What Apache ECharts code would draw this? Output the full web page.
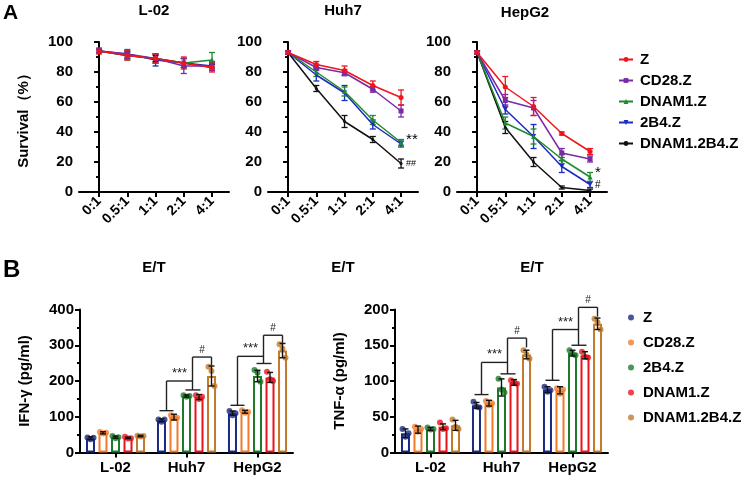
<!DOCTYPE html>
<html>
<head>
<meta charset="utf-8">
<script src="https://cdn.jsdelivr.net/npm/echarts@6/dist/echarts.min.js"></script>
<style>
html, body { margin: 0; padding: 0; background: #fff; }
#wrap { position: relative; width: 752px; height: 480px; }
#chartA { position: absolute; left: 0; top: 0; width: 752px; height: 280px; }
#chartB { position: absolute; left: 0; top: 250px; width: 752px; height: 230px; }
</style>
</head>
<body>
<div id="wrap">
  <div id="chartA"></div>
  <div id="chartB"></div>
</div>
<script>
// ---- Panel A: survival vs E/T ratio ----
const ratioLabels = ['0:1', '0.5:1', '1:1', '2:1', '4:1'];
const cellLines = ['L-02', 'Huh7', 'HepG2'];
const carNamesA = ['Z', 'CD28.Z', 'DNAM1.Z', '2B4.Z', 'DNAM1.2B4.Z'];

// rows follow carNamesA
const survL02 = [
  [94, 91, 89, 86, 83],
  [94, 92, 89, 84, 84],
  [94, 91, 89, 86, 88],
  [94, 92, 88, 86, 84],
  [94, 91, 89, 86, 83]
];
const errL02 = [
  [2, 3, 3, 4, 3],
  [1, 3, 3, 5, 3],
  [1, 3, 3, 3, 5],
  [1, 2, 4, 3, 2],
  [1, 2, 2, 3, 2]
];
const survHuh7 = [
  [93, 85, 81, 71, 63],
  [93, 83, 79.5, 68.5, 54],
  [93, 80, 67, 48, 33],
  [93, 78, 66, 45, 32],
  [93, 69, 47, 35, 19]
];
const errHuh7 = [
  [1, 2, 3, 3, 5],
  [1, 2, 2, 2, 4],
  [1, 3, 3, 3, 2],
  [1, 4, 5, 3, 2],
  [1, 2, 4, 2, 3]
];
const survHepG2 = [
  [93, 70, 57, 39, 27],
  [93, 61, 56, 26, 22],
  [93, 46, 37, 22, 10],
  [93, 55, 37, 17, 5],
  [93, 43, 20, 3, 1]
];
const errHepG2 = [
  [1, 7, 6, 1, 2],
  [1, 4, 5, 3, 2],
  [1, 4, 5, 3, 3],
  [1, 3, 8, 4, 2],
  [1, 4, 3, 1, 1]
];
const sigHuh7Y = [35, 19];
const sigHuh7Text = ['**', '##'];
const sigHepG2Y = [12.5, 4.5];
const sigHepG2Text = ['*', '#'];

// ---- Panel B: cytokines ----
const carNamesB = ['Z', 'CD28.Z', '2B4.Z', 'DNAM1.Z', 'DNAM1.2B4.Z'];
// means per CAR over [L-02, Huh7, HepG2]
const ifnMean = [[40, 90, 110], [55, 99, 114], [43, 158, 214], [41, 155, 210], [46, 214, 285]];
const ifnSd = [[4, 4, 6], [3, 8, 4], [3, 3, 16], [2, 7, 14], [2, 28, 20]];
const ifnReps = [
  [[42, 37, 41], [92, 86, 92], [116, 104, 110]],
  [[57, 53, 55], [104, 96, 97], [118, 111, 113]],
  [[46, 40, 43], [160, 156, 158], [231, 223, 198]],
  [[44, 39, 40], [160, 150, 156], [226, 205, 200]],
  [[47, 45, 46], [240, 228, 186], [303, 290, 265]]
];
const tnfMean = [[27, 66, 88], [32, 69, 87], [33, 91, 139], [36, 98, 136], [38, 137, 180]];
const tnfSd = [[6, 4, 4], [5, 4, 5], [2, 12, 4], [4, 4, 5], [7, 6, 8]];
const tnfReps = [
  [[33, 22, 27], [71, 64, 63], [92, 85, 87]],
  [[36, 29, 33], [72, 66, 69], [90, 82, 88]],
  [[35, 32, 33], [103, 88, 84], [143, 138, 136]],
  [[42, 33, 34], [101, 98, 96], [141, 134, 133]],
  [[46, 36, 33], [143, 137, 131], [187, 182, 172]]
];
// significance brackets for Huh7 and HepG2: [low, ***, mid, #, # end]
const bracketCats = [1, 2];
const ifnBrackets = [[117, 200, 175, 267, 244], [132, 269, 249, 328, 302]];
const tnfBrackets = [[81, 126, 110, 160, 147], [101, 172, 150, 203, 190]];

// ---- styles ----
const FONT = 'Arial, "Liberation Sans", sans-serif';
const colorsA = ['#f0141c', '#7a2aa6', '#1f8a2c', '#1c2cc0', '#111111'];
const symbolsA = ['circle', 'rect', 'triangle', 'path://M0,0L10,0L5,9Z', 'circle'];
const symSizeA = [5, 5, 5, 5, 3];
const colorsB = ['#1b2a80', '#f07c2a', '#1e7a2a', '#e8141c', '#c27a2c'];
const barStep = 12.5;
const jitter = [-3, 0, 3];

function axisBase() {
  return {
    axisLine: { show: true, lineStyle: { color: '#000', width: 2 } },
    axisTick: { show: true, length: 5, lineStyle: { color: '#000', width: 2 } },
    splitLine: { show: false }
  };
}

// ================= Chart A =================
const chartA = echarts.init(document.getElementById('chartA'));
const gridLeftA = [79, 268, 457];
const survByLine = [survL02, survHuh7, survHepG2];
const errByLine = [errL02, errHuh7, errHepG2];

const gridsA = gridLeftA.map(l => ({ left: l, top: 42, width: 150, height: 151 }));
const xAxesA = gridLeftA.map((l, p) => Object.assign(axisBase(), {
  type: 'value', gridIndex: p, min: -0.71, max: 4.6,
  name: 'E/T', nameLocation: 'middle', nameGap: 68,
  nameTextStyle: { fontFamily: FONT, fontWeight: 'bold', fontSize: 15, color: '#000' },
  axisTick: { show: true, length: 5, customValues: [0, 1, 2, 3, 4], lineStyle: { color: '#000', width: 2 } },
  axisLabel: {
    customValues: [0, 1, 2, 3, 4], rotate: 45, margin: 7,
    fontFamily: FONT, fontWeight: 'bold', fontSize: 14, color: '#000',
    formatter: v => ratioLabels[v]
  }
}));
const yAxesA = gridLeftA.map((l, p) => Object.assign(axisBase(), {
  type: 'value', gridIndex: p, min: 0, max: 100, interval: 20,
  name: p === 0 ? 'Survival（%）' : '', nameLocation: 'middle', nameGap: 48,
  nameTextStyle: { fontFamily: FONT, fontWeight: 'bold', fontSize: 15, color: '#000' },
  minorTick: { show: true, splitNumber: 2, length: 3, lineStyle: { color: '#000', width: 2 } },
  axisLabel: { fontFamily: FONT, fontWeight: 'bold', fontSize: 15, color: '#000', margin: 6 }
}));

function errBarA(params, api) {
  const x = api.value(0), m = api.value(1), e = api.value(2), c = api.value(3);
  const t = api.coord([x, m + e]), b = api.coord([x, m - e]);
  const style = { stroke: colorsA[c], lineWidth: 1.3 };
  return { type: 'group', children: [
    { type: 'line', shape: { x1: t[0], y1: t[1], x2: b[0], y2: b[1] }, style },
    { type: 'line', shape: { x1: t[0] - 3, y1: t[1], x2: t[0] + 3, y2: t[1] }, style },
    { type: 'line', shape: { x1: b[0] - 3, y1: b[1], x2: b[0] + 3, y2: b[1] }, style }
  ] };
}

const seriesA = [];
const drawOrder = [4, 3, 2, 1, 0];
for (let p = 0; p < 3; p++) {
  const errData = [];
  drawOrder.forEach(c => {
    survByLine[p][c].forEach((v, i) => errData.push([i, v, errByLine[p][c][i], c]));
  });
  seriesA.push({
    type: 'custom', xAxisIndex: p, yAxisIndex: p, renderItem: errBarA,
    data: errData, encode: { x: 0, y: 1 }, z: 2, silent: true
  });
  drawOrder.forEach(c => {
    seriesA.push({
      type: 'line', name: carNamesA[c], xAxisIndex: p, yAxisIndex: p,
      data: survByLine[p][c].map((v, i) => [i, v]),
      color: colorsA[c], symbol: symbolsA[c], symbolSize: symSizeA[c],
      lineStyle: { width: 1.5 }, z: 3
    });
  });
}
function sigText(texts, sizes) {
  return function (params, api) {
    const pt = api.coord([api.value(0), api.value(1)]);
    return { type: 'text', x: pt[0] + 5, y: pt[1], style: {
      text: texts[params.dataIndex], fill: '#000', fontFamily: FONT,
      fontSize: sizes[params.dataIndex], verticalAlign: 'middle', align: 'left'
    } };
  };
}
seriesA.push({
  type: 'custom', xAxisIndex: 1, yAxisIndex: 1, clip: false, silent: true,
  renderItem: sigText(sigHuh7Text, [15, 9]),
  data: sigHuh7Y.map(v => [4, v]), encode: { x: 0, y: 1 }, z: 5
});
seriesA.push({
  type: 'custom', xAxisIndex: 2, yAxisIndex: 2, clip: false, silent: true,
  renderItem: sigText(sigHepG2Text, [15, 10]),
  data: sigHepG2Y.map(v => [4, v]), encode: { x: 0, y: 1 }, z: 5
});

chartA.setOption({
  animation: false,
  textStyle: { fontFamily: FONT },
  grid: gridsA, xAxis: xAxesA, yAxis: yAxesA,
  legend: {
    data: carNamesA, orient: 'vertical', left: 613, top: 47, itemGap: 6,
    itemWidth: 14, itemHeight: 6, selectedMode: false,
    textStyle: { fontFamily: FONT, fontWeight: 'bold', fontSize: 15, color: '#000', padding: [0, 0, 0, 2] }
  },
  graphic: [
    { type: 'text', x: 3, y: 3, style: { text: 'A', font: 'bold 21px ' + FONT, fill: '#000' } },
    { type: 'text', x: 154, y: 3, style: { text: cellLines[0], font: 'bold 15px ' + FONT, fill: '#000', align: 'center' } },
    { type: 'text', x: 343, y: 3, style: { text: cellLines[1], font: 'bold 15px ' + FONT, fill: '#000', align: 'center' } },
    { type: 'text', x: 525, y: 5, style: { text: cellLines[2], font: 'bold 15px ' + FONT, fill: '#000', align: 'center' } }
  ],
  series: seriesA
});

// ================= Chart B =================
const chartB = echarts.init(document.getElementById('chartB'));
const gridLeftB = [80, 395];
const meansB = [ifnMean, tnfMean];
const sdB = [ifnSd, tnfSd];
const repsB = [ifnReps, tnfReps];
const bracketsB = [ifnBrackets, tnfBrackets];

function errBarB(params, api) {
  const cat = api.value(0), m = api.value(1), e = api.value(2), k = api.value(3);
  const dx = (k - 2) * barStep;
  const t = api.coord([cat, m + e]), b = api.coord([cat, m - e]);
  const x = t[0] + dx;
  const style = { stroke: '#111', lineWidth: 1.4 };
  return { type: 'group', children: [
    { type: 'line', shape: { x1: x, y1: t[1], x2: x, y2: b[1] }, style },
    { type: 'line', shape: { x1: x - 3, y1: t[1], x2: x + 3, y2: t[1] }, style },
    { type: 'line', shape: { x1: x - 3, y1: b[1], x2: x + 3, y2: b[1] }, style }
  ] };
}

function bracket(params, api) {
  const cat = api.value(0);
  const c = api.coord([cat, 0])[0];
  const y = i => api.coord([cat, api.value(i)])[1];
  const lowY = y(1), starY = y(2), midY = y(3), hashY = y(4), endY = y(5);
  const style = { stroke: '#222', lineWidth: 1.4, fill: null };
  const seg = (x1, y1, x2, y2) => ({ type: 'line', shape: { x1: c + x1, y1, x2: c + x2, y2 }, style });
  return { type: 'group', children: [
    seg(-27, lowY, -13, lowY),
    seg(-20, lowY, -20, starY),
    seg(-20, starY, 6, starY),
    seg(-1, midY, 14, midY),
    seg(6, midY, 6, hashY),
    seg(6, hashY, 25, hashY),
    seg(25, hashY, 25, endY),
    { type: 'text', x: c - 7, y: starY - 1, style: { text: '***', fill: '#222', fontFamily: FONT, fontSize: 13, align: 'center', verticalAlign: 'bottom' } },
    { type: 'text', x: c + 15.5, y: hashY - 2, style: { text: '#', fill: '#222', fontFamily: FONT, fontSize: 10, align: 'center', verticalAlign: 'bottom' } }
  ] };
}

const seriesB = [];
for (let g = 0; g < 2; g++) {
  // dots first so legend icons use their colour
  carNamesB.forEach((name, k) => {
    const pts = [];
    repsB[g][k].forEach((reps, cat) => {
      reps.forEach((v, j) => pts.push({ value: [cat, v], symbolOffset: [(k - 2) * barStep + jitter[j], 0] }));
    });
    seriesB.push({
      type: 'scatter', name, xAxisIndex: g, yAxisIndex: g, data: pts,
      symbol: 'circle', symbolSize: 6, itemStyle: { color: colorsB[k] }, z: 4
    });
  });
  carNamesB.forEach((name, k) => {
    seriesB.push({
      type: 'bar', name, xAxisIndex: g, yAxisIndex: g, data: meansB[g][k],
      barWidth: 9, barGap: '39%',
      itemStyle: { color: '#fff', borderColor: colorsB[k], borderWidth: 2 }, z: 2
    });
  });
  const errData = [];
  carNamesB.forEach((name, k) => {
    meansB[g][k].forEach((m, cat) => errData.push([cat, m, sdB[g][k][cat], k]));
  });
  seriesB.push({
    type: 'custom', xAxisIndex: g, yAxisIndex: g, renderItem: errBarB,
    data: errData, encode: { x: 0, y: 1 }, z: 5, silent: true, clip: false
  });
  seriesB.push({
    type: 'custom', xAxisIndex: g, yAxisIndex: g, renderItem: bracket, clip: false, silent: true,
    data: bracketsB[g].map((b, i) => [bracketCats[i]].concat(b)), encode: { x: 0, y: [1, 2, 3, 4, 5] }, z: 5
  });
}

chartB.setOption({
  animation: false,
  textStyle: { fontFamily: FONT },
  grid: gridLeftB.map(l => ({ left: l, top: 59.5, width: 213, height: 143 })),
  xAxis: gridLeftB.map((l, g) => Object.assign(axisBase(), {
    type: 'category', gridIndex: g, data: cellLines,
    axisTick: { show: true, alignWithLabel: true, length: 5, lineStyle: { color: '#000', width: 2 } },
    axisLabel: { fontFamily: FONT, fontWeight: 'bold', fontSize: 15, color: '#000', margin: 8 }
  })),
  yAxis: gridLeftB.map((l, g) => Object.assign(axisBase(), {
    type: 'value', gridIndex: g, min: 0,
    max: g === 0 ? 400 : 200, interval: g === 0 ? 100 : 50,
    name: g === 0 ? 'IFN-γ (pg/ml)' : 'TNF-α (pg/ml)', nameLocation: 'middle', nameGap: 48,
    nameTextStyle: { fontFamily: FONT, fontWeight: 'bold', fontSize: 15, color: '#000' },
    minorTick: { show: true, splitNumber: 2, length: 3, lineStyle: { color: '#000', width: 2 } },
    axisLabel: { fontFamily: FONT, fontWeight: 'bold', fontSize: 15, color: '#000', margin: 6 }
  })),
  legend: {
    data: carNamesB, orient: 'vertical', left: 623, top: 55, itemGap: 10,
    icon: 'circle', itemWidth: 6, itemHeight: 6, selectedMode: false,
    textStyle: { fontFamily: FONT, fontWeight: 'bold', fontSize: 15, color: '#000', padding: [0, 0, 0, 4] }
  },
  graphic: [
    { type: 'text', x: 3, y: 8, style: { text: 'B', font: 'bold 24px ' + FONT, fill: '#000' } }
  ],
  series: seriesB
});
</script>
</body>
</html>
